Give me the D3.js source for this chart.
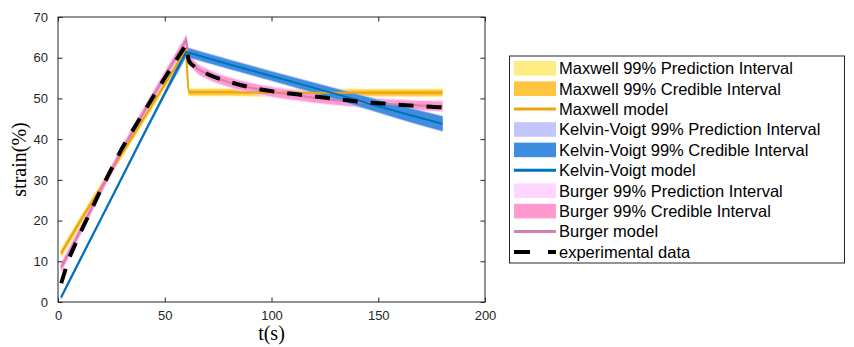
<!DOCTYPE html>
<html>
<head>
<meta charset="utf-8">
<script src="https://cdn.jsdelivr.net/npm/d3@7"></script>
<style>
  html, body { margin: 0; padding: 0; background: #fff; }
  svg { display: block; }
</style>
</head>
<body>
<svg id="chart" width="854" height="347"></svg>
<script>
// ---------- data ----------
const xTicks = [0, 50, 100, 150, 200];
const yTicks = [0, 10, 20, 30, 40, 50, 60, 70];
const peakT = 60;

const maxwellT    = [1.5, 10, 20, 30, 40, 50, 60, 61.5, 80, 100, 120, 140, 160, 180];
const maxwellV    = [12, 19.5, 28, 36.5, 45, 53.5, 62, 51.5, 51.5, 51.4, 51.4, 51.4, 51.4, 51.4];
const maxwellCred = [0.6, 0.6, 0.6, 0.6, 0.6, 0.6, 0.6, 0.6, 0.6, 0.6, 0.6, 0.6, 0.6, 0.6];
const maxwellPred = [1.0, 1.0, 1.0, 1.0, 1.0, 1.0, 1.0, 0.9, 0.9, 0.9, 0.9, 0.9, 0.9, 0.9];

const kvT    = [1.5, 10, 20, 30, 40, 50, 60, 80, 100, 120, 140, 160, 180];
const kvV    = [1.2, 10, 20.3, 30.6, 41, 51.2, 61.4, 58.4, 55.5, 52.6, 49.6, 46.6, 43.8];
const kvCred = [0.3, 0.3, 0.3, 0.3, 0.3, 0.4, 1.0, 1.0, 1.0, 1.1, 1.3, 1.5, 1.7];
const kvPred = [0.4, 0.4, 0.4, 0.4, 0.4, 0.5, 1.2, 1.2, 1.2, 1.3, 1.5, 1.7, 1.9];

const burgerT    = [1.5, 5, 10, 20, 30, 40, 50, 60, 61.5, 64, 70, 80, 95, 112, 128, 143, 158, 180];
const burgerV    = [8.5, 12, 17, 27.5, 37.3, 46.5, 55.5, 64.3, 60, 58, 56, 54, 52.1, 50.7, 49.7, 49.0, 48.5, 48.1];
const burgerCred = [0.8, 0.8, 0.8, 0.8, 0.8, 0.8, 0.8, 0.9, 1.0, 1.0, 1.0, 1.0, 1.0, 1.0, 1.0, 1.0, 1.0, 1.0];
const burgerPred = [1.2, 1.2, 1.2, 1.2, 1.2, 1.2, 1.2, 1.3, 1.3, 1.3, 1.3, 1.3, 1.3, 1.3, 1.3, 1.3, 1.3, 1.3];

const expT = [1.5, 5, 10, 20, 30, 40, 50, 60, 61.5, 64, 70, 80, 95, 112, 128, 143, 158, 180];
const expV = [4.6, 10.5, 16.5, 27.5, 37.8, 46.5, 55, 63.2, 59, 57.8, 56, 54.1, 52.2, 51, 50, 49.1, 48.5, 47.8];

const legendLabels = [
  "Maxwell 99% Prediction Interval",
  "Maxwell 99% Credible Interval",
  "Maxwell model",
  "Kelvin-Voigt 99% Prediction Interval",
  "Kelvin-Voigt 99% Credible Interval",
  "Kelvin-Voigt model",
  "Burger 99% Prediction Interval",
  "Burger 99% Credible Interval",
  "Burger model",
  "experimental data"
];

// ---------- styles ----------
const C = {
  mPred: "#FFEC80", mCred: "#FFC53F", mLine: "#EBA40C",
  kPred: "#C2C6FA", kCred: "#3D8EDE", kLine: "#0072BD",
  bPred: "#FFD6FF", bCred: "#FF99CF", bLine: "#D57FAE",
  axis: "#262626"
};

const svg = d3.select("#chart");
const M = { left: 58, top: 17, right: 485, bottom: 302 };

const x = d3.scaleLinear().domain([0, 200]).range([M.left, M.right]);
const y = d3.scaleLinear().domain([0, 70]).range([M.bottom, M.top]);

function pts(T, V, H) { return T.map((t, i) => ({ t, v: V[i], h: H ? H[i] : 0 })); }
// ramp (loading) part drawn straight, recovery part drawn smooth
function split(P) {
  return [P.filter(d => d.t <= peakT), P.filter(d => d.t >= peakT)];
}

function band(T, V, H, color) {
  const [rise, fall] = split(pts(T, V, H));
  [[rise, d3.curveLinear], [fall, d3.curveMonotoneX]].forEach(([data, cv]) => {
    const a = d3.area().curve(cv)
      .x(d => x(d.t)).y0(d => y(d.v - d.h)).y1(d => y(d.v + d.h));
    svg.append("path").datum(data).attr("d", a)
      .attr("fill", color).attr("stroke", color).attr("stroke-width", 0.8);
  });
}
function line(T, V, color, w, dash) {
  const [rise, fall] = split(pts(T, V));
  const gen = d3.line().x(d => x(d.t)).y(d => y(d.v));
  const d1 = gen.curve(d3.curveLinear)(rise);
  const d2 = gen.curve(d3.curveMonotoneX)(fall).replace(/^M[^A-Za-z]*/, "");
  const p = svg.append("path").attr("d", d1 + d2)
    .attr("fill", "none").attr("stroke", color).attr("stroke-width", w)
    .attr("stroke-linejoin", "miter");
  if (dash) p.attr("stroke-dasharray", dash);
}

// bands
band(maxwellT, maxwellV, maxwellPred, C.mPred);
band(maxwellT, maxwellV, maxwellCred, C.mCred);
band(burgerT, burgerV, burgerPred, C.bPred);
band(burgerT, burgerV, burgerCred, C.bCred);
band(kvT, kvV, kvPred, C.kPred);
band(kvT, kvV, kvCred, C.kCred);
// model lines
line(maxwellT, maxwellV, C.mLine, 2);
line(burgerT, burgerV, C.bLine, 2);
line(kvT, kvV, C.kLine, 2);
// data
line(expT, expV, "#000", 4, "15,13");

// ---------- axes ----------
const tickLen = 4.5;
svg.append("rect").attr("x", M.left).attr("y", M.top)
  .attr("width", M.right - M.left).attr("height", M.bottom - M.top)
  .attr("fill", "none").attr("stroke", C.axis).attr("stroke-width", 1);

const xAxis = d3.axisBottom(x).tickValues(xTicks).tickSizeInner(-tickLen).tickSizeOuter(0).tickPadding(9);
const gx = svg.append("g").attr("transform", `translate(0,${M.bottom})`).call(xAxis);
const xTop = d3.axisTop(x).tickValues(xTicks).tickSizeInner(-tickLen).tickSizeOuter(0).tickFormat("");
const gxt = svg.append("g").attr("transform", `translate(0,${M.top})`).call(xTop);
const yAxis = d3.axisLeft(y).tickValues(yTicks).tickSizeInner(-tickLen).tickSizeOuter(0).tickPadding(10);
const gy = svg.append("g").attr("transform", `translate(${M.left},0)`).call(yAxis);
const yRight = d3.axisRight(y).tickValues(yTicks).tickSizeInner(-tickLen).tickSizeOuter(0).tickFormat("");
const gyr = svg.append("g").attr("transform", `translate(${M.right},0)`).call(yRight);

[gx, gxt, gy, gyr].forEach(g => {
  g.select(".domain").remove();
  g.selectAll(".tick line").attr("stroke", C.axis);
  g.selectAll(".tick text").attr("fill", C.axis)
    .style("font-family", "'Liberation Sans', Arial, sans-serif").style("font-size", "13px");
});

svg.append("text").attr("x", (M.left + M.right) / 2).attr("y", 340)
  .attr("text-anchor", "middle")
  .style("font-family", "'Liberation Serif', 'Times New Roman', serif").style("font-size", "20px")
  .attr("fill", "#000").text("t(s)");
svg.append("text").attr("transform", `translate(26,${(M.top + M.bottom) / 2}) rotate(-90)`)
  .attr("text-anchor", "middle")
  .style("font-family", "'Liberation Serif', 'Times New Roman', serif").style("font-size", "20px")
  .attr("fill", "#000").text("strain(%)");

// ---------- legend ----------
const L = { x: 509.5, y: 56, w: 335, h: 207, row0: 68.3, dy: 20.4, sx0: 514, sx1: 556, tx: 559 };
const lg = svg.append("g");
lg.append("rect").attr("x", L.x).attr("y", L.y).attr("width", L.w).attr("height", L.h)
  .attr("fill", "#fff").attr("stroke", C.axis).attr("stroke-width", 1);

const legendKinds = [
  ["rect", C.mPred], ["rect", C.mCred], ["line", C.mLine],
  ["rect", C.kPred], ["rect", C.kCred], ["line", C.kLine],
  ["rect", C.bPred], ["rect", C.bCred], ["line", C.bLine],
  ["dash", "#000"]
];
legendLabels.forEach((lab, i) => {
  const cy = L.row0 + i * L.dy;
  const [kind, col] = legendKinds[i];
  if (kind === "rect") {
    lg.append("rect").attr("x", L.sx0).attr("y", cy - 7.3).attr("width", L.sx1 - L.sx0).attr("height", 14.6)
      .attr("fill", col);
  } else if (kind === "line") {
    lg.append("line").attr("x1", L.sx0).attr("x2", L.sx1).attr("y1", cy).attr("y2", cy)
      .attr("stroke", col).attr("stroke-width", 3);
  } else {
    lg.append("line").attr("x1", L.sx0).attr("x2", L.sx1).attr("y1", cy).attr("y2", cy)
      .attr("stroke", col).attr("stroke-width", 4).attr("stroke-dasharray", "16,18");
  }
  lg.append("text").attr("x", L.tx).attr("y", cy + 5.8)
    .style("font-family", "'Liberation Sans', Arial, sans-serif").style("font-size", "16.5px")
    .attr("fill", "#000").text(lab);
});
</script>
</body>
</html>
